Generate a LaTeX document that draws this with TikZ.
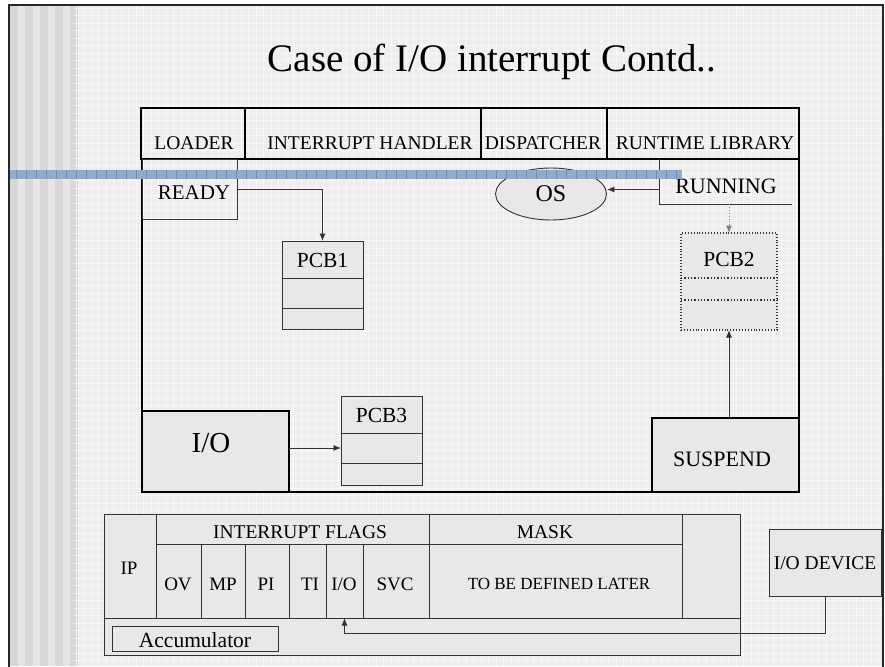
\documentclass[tikz,border=0pt]{standalone}
\usepackage{fontspec}
\setmainfont{Liberation Serif}
\usetikzlibrary{arrows.meta,shapes.geometric}
\definecolor{bg}{HTML}{EEEEEE}
\definecolor{boxfill}{HTML}{E8E8E8}
\definecolor{stripeA}{HTML}{E6E6E6}
\definecolor{stripeB}{HTML}{D8D8D8}
\definecolor{barblue}{RGB}{143,172,208}
\definecolor{bardark}{RGB}{105,140,188}
\definecolor{edge}{HTML}{333333}
\begin{document}
\begin{tikzpicture}[x=1pt,y=-1pt,
  cell/.style={draw=edge, line width=0.9pt, fill=boxfill, inner sep=0pt, outer sep=0pt, anchor=north west},
  frame/.style={draw=black, line width=1.1pt, inner sep=0pt, outer sep=0pt, anchor=north west},
  ghost/.style={inner sep=0pt, outer sep=0pt, anchor=north west},
  lab/.style={inner sep=0pt, outer sep=0pt, font=\fontsize{#1}{#1}\selectfont},
  arr/.style={-{Latex[length=7.5pt,width=6pt]}, line width=0.9pt, draw=edge},
]
\useasboundingbox (0,0) rectangle (885,666);
% background
\fill[white] (0,0) rectangle (885,666);
\fill[bg] (9,5) rectangle (883,666);
\foreach \x in {10,25,...,70} \fill[stripeB] (\x,5) rectangle ++(7.5,661);
\foreach \x in {17.5,32.5,...,70} \fill[stripeA] (\x,5) rectangle ++(7.5,661);
\foreach \x in {76,83.5,...,880} \draw[white, opacity=0.55, line width=0.8pt] (\x,5) -- (\x,666);
\foreach \y in {8,15.5,...,666} \draw[white, opacity=0.55, line width=0.8pt] (73,\y) -- (883,\y);
\draw[black!85, line width=2.2pt] (9,680) -- (9,5) -- (883,5) -- (883,680);

% title
\node[lab=39, anchor=base] (title) at (492,72) {Case of I/O interrupt Contd..};

% top row
\node[frame, minimum width=104pt, minimum height=51pt] (loader) at (141,108) {};
\node[frame, minimum width=236pt, minimum height=51pt] (ih) at (245,108) {};
\node[frame, minimum width=126pt, minimum height=51pt] (disp) at (481,108) {};
\node[frame, minimum width=192pt, minimum height=51pt] (rtl) at (607,108) {};
\node[lab=19.5, anchor=base] (loadert) at (194,149) {LOADER};
\node[lab=19.5, anchor=base] (iht) at (370,149) {INTERRUPT HANDLER};
\node[lab=19.5, anchor=base] (dispt) at (543,149) {DISPATCHER};
\node[lab=19.5, anchor=base] (rtlt) at (705,149) {RUNTIME LIBRARY};

% main box
\node[frame, minimum width=657pt, minimum height=333pt] (mainbox) at (142,159) {};

% READY
\node[ghost, draw=edge, line width=0.9pt, minimum width=95pt, minimum height=60pt] (ready) at (142,159) {};
\node[lab=21, anchor=base] (readyt) at (194,199) {READY};

% RUNNING
\node[ghost, minimum width=133pt, minimum height=45pt] (run) at (659,159) {};
\draw[draw=edge, line width=0.9pt] (run.north west) -- (run.south west) -- (run.south east);
\node[lab=22, anchor=base] (runt) at (726,193) {RUNNING};

% OS
\node[ellipse, draw=edge, line width=0.9pt, fill=boxfill, minimum width=111pt, minimum height=52pt, inner sep=0pt, font=\fontsize{24}{24}\selectfont] (os) at (551,194) {OS};

% blue bar
\fill[barblue] (10,170) rectangle (682,179);
\foreach \x in {16,26,...,680} \draw[bardark, line width=0.7pt] (\x,170) -- (\x,179);

% PCB1
\node[cell, minimum width=81pt, minimum height=88pt] (pcb1) at (282,241) {};
\draw[draw=edge, line width=0.9pt] ([yshift=-37pt]pcb1.north west) -- ([yshift=-37pt]pcb1.north east);
\draw[draw=edge, line width=0.9pt] ([yshift=-67pt]pcb1.north west) -- ([yshift=-67pt]pcb1.north east);
\node[lab=21.5] (pcb1t) at ([yshift=-19pt]pcb1.north) {PCB1};

% PCB2 (dotted)
\node[cell, dotted, line width=1.3pt, minimum width=96pt, minimum height=97pt] (pcb2) at (681,233) {};
\draw[draw=edge, dotted, line width=1.3pt] ([yshift=-45pt]pcb2.north west) -- ([yshift=-45pt]pcb2.north east);
\draw[draw=edge, dotted, line width=1.3pt] ([yshift=-67pt]pcb2.north west) -- ([yshift=-67pt]pcb2.north east);
\node[lab=21.5] (pcb2t) at ([yshift=-26pt]pcb2.north) {PCB2};

% I/O
\node[cell, draw=black, line width=1.1pt, minimum width=147pt, minimum height=81pt] (io) at (142,411) {};
\node[lab=29] (iot) at (211,443) {I/O};

% PCB3
\node[cell, minimum width=81pt, minimum height=89pt] (pcb3) at (341,396) {};
\draw[draw=edge, line width=0.9pt] ([yshift=-37pt]pcb3.north west) -- ([yshift=-37pt]pcb3.north east);
\draw[draw=edge, line width=0.9pt] ([yshift=-67pt]pcb3.north west) -- ([yshift=-67pt]pcb3.north east);
\node[lab=21.5] (pcb3t) at ([yshift=-19pt]pcb3.north) {PCB3};

% SUSPEND
\node[cell, draw=black, line width=1.1pt, minimum width=147pt, minimum height=74pt] (susp) at (652,418) {};
\node[lab=22] (suspt) at (722,459) {SUSPEND};

% connectors (upper)
\coordinate (rdyout) at (237,189.5);
\draw[arr] (rdyout) -| (pcb1.north);
\coordinate (runout) at (659,189.5);
\draw[arr] (runout) -- (runout -| os.east);
\draw[arr, dotted, draw=gray] (pcb2.north |- run.south) -- (pcb2.north);
\draw[arr] (pcb2.south |- susp.north) -- (pcb2.south);
\draw[arr] ([yshift=3.5pt]io.east) -- ([yshift=3.5pt]io.east -| pcb3.west);

% register
\node[cell, minimum width=636pt, minimum height=141pt] (reg) at (104,514) {};
\node[cell, minimum width=52pt, minimum height=104pt] (ip) at (104,514) {};
\node[cell, minimum width=273pt, minimum height=30pt] (flags) at (156,514) {};
\node[cell, minimum width=253pt, minimum height=30pt] (mask) at (429,514) {};
\node[cell, minimum width=45pt, minimum height=74pt] (fov) at (156,544) {};
\node[cell, minimum width=44pt, minimum height=74pt] (fmp) at (201,544) {};
\node[cell, minimum width=44pt, minimum height=74pt] (fpi) at (245,544) {};
\node[cell, minimum width=37pt, minimum height=74pt] (fti) at (289,544) {};
\node[cell, minimum width=37pt, minimum height=74pt] (fio) at (326,544) {};
\node[cell, minimum width=66pt, minimum height=74pt] (fsvc) at (363,544) {};
\node[cell, minimum width=253pt, minimum height=74pt] (maskbody) at (429,544) {};
\node[cell, minimum width=58pt, minimum height=104pt] (spare) at (682,514) {};
\node[cell, minimum width=166pt, minimum height=25pt] (acc) at (112,626) {};
\node[lab=19] (ipt) at (129,568) {IP};
\node[lab=19.5] (flagst) at (300,532) {INTERRUPT FLAGS};
\node[lab=19.5] (maskt) at (545,532) {MASK};
\node[lab=19] (fovt) at (178,584) {OV};
\node[lab=19] (fmpt) at (223,584) {MP};
\node[lab=19] (fpit) at (266,584) {PI};
\node[lab=19] (ftit) at (310,584) {TI};
\node[lab=19] (fiot) at (344,584) {I/O};
\node[lab=19] (fsvct) at (395,584) {SVC};
\node[lab=17] (tbd) at (559,584) {TO BE DEFINED LATER};
\node[lab=21.5] (acct) at (195,640) {Accumulator};

% I/O device
\node[cell, minimum width=112pt, minimum height=67pt] (iodev) at (769,529) {};
\node[lab=19.5] (iodevt) at (825,563) {I/O DEVICE};
\coordinate (busy) at (0,633);
\draw[arr] (iodev.south) |- (busy -| fio.south) -- (fio.south);
\end{tikzpicture}
\end{document}
